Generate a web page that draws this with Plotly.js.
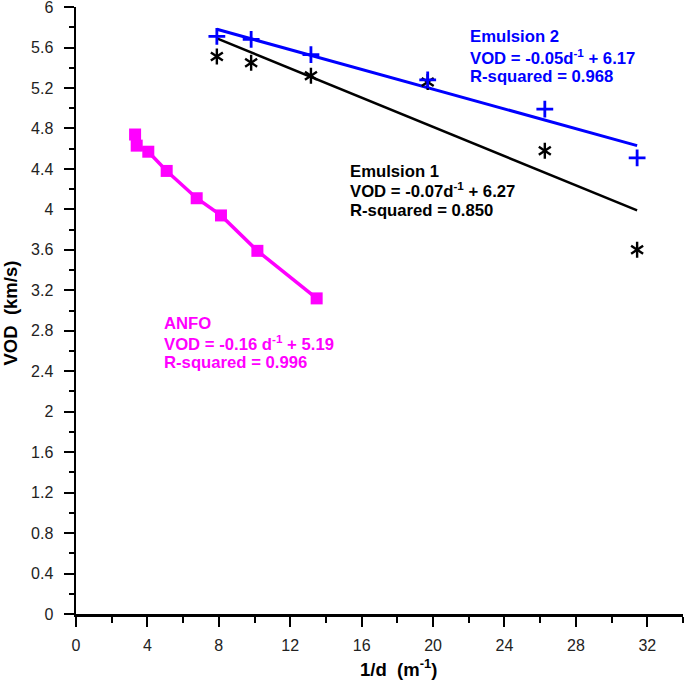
<!DOCTYPE html>
<html>
<head>
<meta charset="utf-8">
<script src="https://cdn.plot.ly/plotly-3.0.1.min.js"></script>
<style>html,body{margin:0;padding:0;background:#fff;}#chart{width:685px;height:682px;}</style>
</head>
<body>
<div id="chart"></div>
<script>
// ANFO measurements
const anfoX = [3.31, 3.40, 4.05, 5.08, 6.76, 8.12, 10.16, 13.48];
const anfoY = [4.74, 4.63, 4.57, 4.38, 4.11, 3.94, 3.59, 3.12];
// Emulsion measurements (1/d, m^-1)
const emX = [7.89, 9.81, 13.16, 19.70, 26.26, 31.43];
const em1Y = [5.51, 5.45, 5.32, 5.26, 4.58, 3.60];
const em2Y = [5.71, 5.68, 5.53, 5.28, 4.99, 4.51];
// Fitted lines (end points)
const fitX = [7.89, 31.43];
const em1FitY = [5.69, 3.99];
const em2FitY = [5.78, 4.63];
// Labels
const anfoLines = ['ANFO', 'VOD = -0.16 d<sup>-1</sup> + 5.19', 'R-squared = 0.996'];
const em1Lines = ['Emulsion 1', 'VOD = -0.07d<sup>-1</sup> + 6.27', 'R-squared = 0.850'];
const em2Lines = ['Emulsion 2', 'VOD = -0.05d<sup>-1</sup> + 6.17', 'R-squared = 0.968'];
const xTitle = '1/d  (m<sup>-1</sup>)';
const yTitle = 'VOD  (km/s)';

const FONT = 'Liberation Sans, Arial, sans-serif';
const MAG = '#FF00FF', BLUE = '#0000FF', BLK = '#000000';

const traces = [
  {x: fitX, y: em1FitY, mode: 'lines', line: {color: BLK, width: 2.5}, hoverinfo: 'skip'},
  {x: fitX, y: em2FitY, mode: 'lines', line: {color: BLUE, width: 3}, hoverinfo: 'skip'},
  {x: emX, y: em1Y, mode: 'markers', marker: {symbol: 'y-up-open', size: 10, color: BLK, line: {color: BLK, width: 2.4}}},
  {x: emX, y: em1Y, mode: 'markers', marker: {symbol: 'y-down-open', size: 10, color: BLK, line: {color: BLK, width: 2.4}}},
  {x: emX, y: em2Y, mode: 'markers', marker: {symbol: 'cross-thin-open', size: 12, color: BLUE, line: {color: BLUE, width: 2.8}}},
  {x: anfoX, y: anfoY, mode: 'lines+markers', line: {color: MAG, width: 3.5}, marker: {symbol: 'square', size: 12, color: MAG}}
];

// label block helper: one annotation per line, left aligned at given data position
function block(lines, x, ys, color) {
  return lines.map((t, i) => ({
    x: x, y: ys[i], xref: 'x', yref: 'y', xanchor: 'left', yanchor: 'middle', align: 'left',
    showarrow: false, borderpad: 0, text: '<b>' + t + '</b>',
    font: {size: 16.7, family: FONT, color: color}
  }));
}

const annotations = []
  .concat(block(anfoLines, 4.89, [2.870, 2.683, 2.484], MAG))
  .concat(block(em1Lines, 15.31, [4.379, 4.190, 3.990], BLK))
  .concat(block(em2Lines, 22.03, [5.705, 5.507, 5.316], BLUE))
  .concat([
    {x: 0.5316, y: -0.089, xref: 'paper', yref: 'paper', xanchor: 'center', yanchor: 'middle', showarrow: false,
     text: '<b>' + xTitle + '</b>', font: {size: 18.5, family: FONT, color: '#000'}},
    {x: -0.1071, y: 0.4967, xref: 'paper', yref: 'paper', xanchor: 'center', yanchor: 'middle', showarrow: false,
     textangle: -90, text: '<b>' + yTitle + '</b>', font: {size: 18.5, family: FONT, color: '#000'}}
  ]);

const layout = {
  width: 685, height: 682,
  margin: {l: 76, r: 2, t: 7, b: 68},
  showlegend: false,
  paper_bgcolor: '#fff', plot_bgcolor: '#fff',
  font: {family: FONT, color: '#000', size: 16},
  xaxis: {
    range: [0, 34], tick0: 0, dtick: 4, showgrid: false, zeroline: false,
    showline: true, linecolor: '#000', linewidth: 2.5,
    ticks: 'outside', ticklen: 10, tickwidth: 2, tickcolor: '#000',
    ticklabelstandoff: 5, ticklabeloverflow: 'allow',
    minor: {dtick: 2, ticks: 'outside', ticklen: 6, tickwidth: 2, tickcolor: '#000', showgrid: false},
    tickfont: {size: 16, family: FONT, color: '#222'}
  },
  yaxis: {
    range: [0, 6.0005], tick0: 0, dtick: 0.4, showgrid: false, zeroline: false,
    showline: true, linecolor: '#000', linewidth: 2.5,
    ticks: 'outside', ticklen: 10, tickwidth: 2, tickcolor: '#000',
    ticklabelstandoff: 7, ticklabeloverflow: 'allow',
    minor: {dtick: 0.2, ticks: 'outside', ticklen: 5, tickwidth: 2, tickcolor: '#000', showgrid: false},
    tickfont: {size: 16, family: FONT, color: '#222'}
  },
  annotations: annotations
};

Plotly.newPlot('chart', traces, layout, {staticPlot: true, displayModeBar: false});
</script>
</body>
</html>
